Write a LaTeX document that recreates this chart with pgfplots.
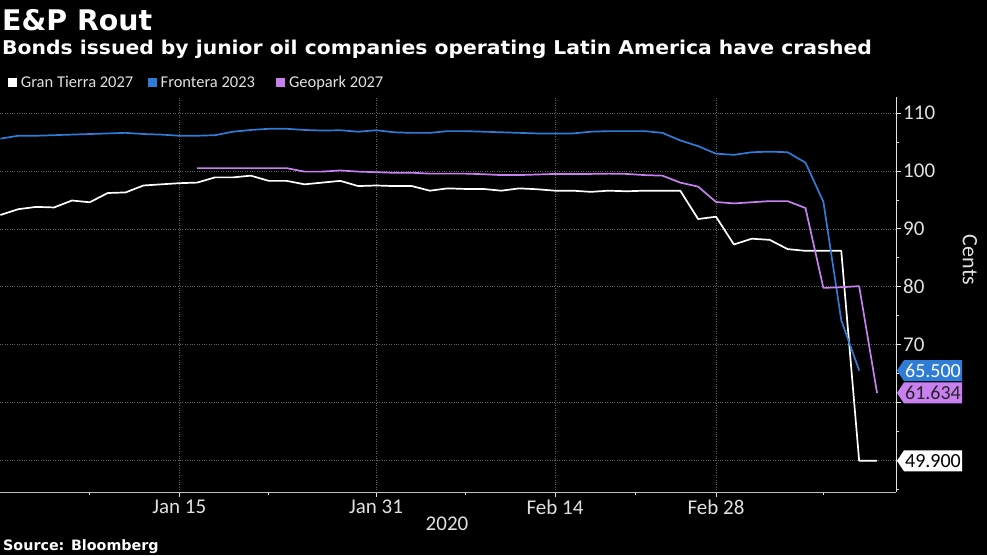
\documentclass[border=0pt]{standalone}
\usepackage{fontspec}
\setmainfont{Carlito}
\newfontfamily\djv{DejaVu Sans}
\newfontfamily\djvwide{DejaVu Sans}[FakeStretch=1.07]
\usepackage{pgfplots}
\pgfplotsset{compat=1.18}
\definecolor{bbblue}{RGB}{46,124,214}
\definecolor{bbpurple}{RGB}{200,128,240}
\definecolor{gridgray}{RGB}{100,100,100}
\definecolor{txt}{RGB}{225,225,225}
\begin{document}
\begin{tikzpicture}
\fill[black] (0pt,0pt) rectangle (987pt,555pt);
\path[use as bounding box] (0pt,0pt) rectangle (987pt,555pt);
% titles
\node[anchor=base west, inner sep=0pt, text=white, font=\djv\bfseries\fontsize{28.4}{30}\selectfont] at (2pt,524.3pt) {E\&P Rout};
\node[anchor=base west, inner sep=0pt, text=white, font=\djvwide\bfseries\fontsize{19}{20}\selectfont] at (2pt,500pt) {Bonds issued by junior oil companies operating Latin America have crashed};
% legend
\fill[white] (8.3pt,467.7pt) rectangle (17.3pt,477.3pt);
\node[anchor=base west, inner sep=0pt, text=txt, font=\fontsize{16.5}{17}\selectfont] at (20.7pt,467.7pt) {Gran Tierra 2027};
\fill[bbblue] (147.7pt,467.7pt) rectangle (156.7pt,477.3pt);
\node[anchor=base west, inner sep=0pt, text=txt, font=\fontsize{16.5}{17}\selectfont] at (160.5pt,467.7pt) {Frontera 2023};
\fill[bbpurple] (276pt,467.7pt) rectangle (285pt,477.3pt);
\node[anchor=base west, inner sep=0pt, text=txt, font=\fontsize{16.5}{17}\selectfont] at (288.8pt,467.7pt) {Geopark 2027};
\begin{axis}[
  at={(0pt,63pt)}, anchor=south west,
  scale only axis, width=896pt, height=395pt,
  xmin=-10.02, xmax=40.06, ymin=44.5, ymax=112.8,
  axis x line*=bottom, axis y line*=right,
  x axis line style={draw=black!25!white, line width=0.8pt, -},
  y axis line style={draw=txt, line width=0.8pt, -},
  tick align=outside,
  major tick length=5pt, minor tick length=3pt,
  every tick/.style={draw=txt, line width=0.8pt},
  xtick={0,11,21,30},
  xticklabels={Jan 15, Jan 31, Feb 14, Feb 28},
  minor xtick={-5,5,16,25.5,36},
  ytick={50,60,...,110},
  yticklabels={,,70,80,90,100,110},
  minor ytick={45,55,...,105},
  grid=major,
  major grid style={draw=gridgray, dotted, line width=0.6pt},
  /pgf/number format/assume math mode=true,
  ticklabel style={font=\fontsize{21}{21}\selectfont, text=txt, inner sep=0pt},
  xticklabel style={anchor=north, yshift=-3pt},
  yticklabel style={anchor=west, xshift=2pt},
  clip=false,
  every axis plot/.append style={line width=1.7pt, line join=round},
]
\addplot[white, mark=none] coordinates {
(-10,92.4)(-9,93.4)(-8,93.8)(-7,93.7)(-6,94.9)(-5,94.6)(-4,96.2)(-3,96.3)(-2,97.5)(-1,97.7)
(0,97.9)(1,98.0)(2,98.9)(3,98.9)(4,99.2)(5,98.3)(6,98.3)(7,97.7)(8,98.0)(9,98.3)
(10,97.4)(11,97.5)(12,97.4)(13,97.4)(14,96.6)(15,97.0)(16,96.9)(17,96.9)(18,96.6)(19,97.0)
(20,96.85)(21,96.6)(22,96.6)(23,96.4)(24,96.6)(25,96.5)(26,96.6)(27,96.6)(28,96.6)(29,91.7)
(30,92.1)(31,87.3)(32,88.3)(33,88.1)(34,86.5)(35,86.2)(36,86.2)(37,86.2)(38,49.9)(39,49.9)};
\addplot[bbblue, mark=none] coordinates {
(-10,105.6)(-9,106.1)(-8,106.1)(-7,106.2)(-6,106.3)(-5,106.4)(-4,106.5)(-3,106.6)(-2,106.4)(-1,106.3)
(0,106.1)(1,106.1)(2,106.2)(3,106.8)(4,107.1)(5,107.3)(6,107.3)(7,107.1)(8,107.0)(9,107.05)
(10,106.8)(11,107.05)(12,106.7)(13,106.6)(14,106.6)(15,106.9)(16,106.9)(17,106.8)(18,106.7)(19,106.6)
(20,106.5)(21,106.5)(22,106.5)(23,106.8)(24,106.9)(25,106.9)(26,106.9)(27,106.6)(28,105.3)(29,104.3)
(30,103.0)(31,102.8)(32,103.25)(33,103.35)(34,103.25)(35,101.45)(36,94.7)(37,74.2)(38,65.5)};
\addplot[bbpurple, mark=none] coordinates {
(1,100.5)(2,100.5)(3,100.5)(4,100.5)(5,100.5)(6,100.5)(7,99.9)(8,99.9)(9,100.1)
(10,99.9)(11,99.8)(12,99.7)(13,99.7)(14,99.55)(15,99.55)(16,99.55)(17,99.45)(18,99.3)(19,99.3)
(20,99.4)(21,99.5)(22,99.5)(23,99.5)(24,99.55)(25,99.5)(26,99.3)(27,99.2)(28,98.0)(29,97.3)
(30,94.65)(31,94.4)(32,94.6)(33,94.8)(34,94.8)(35,93.6)(36,79.8)(37,79.9)(38,80.1)(39,61.634)};
\coordinate (tb) at (axis cs:40.06,65.5);
\coordinate (tp) at (axis cs:40.06,61.634);
\coordinate (tw) at (axis cs:40.06,49.9);
\end{axis}
\fill[bbblue] ([xshift=1pt]tb) -- ++(7pt,10.5pt) -- ++(58pt,0pt) -- ++(0pt,-21pt) -- ++(-58pt,0pt) -- cycle;
\node[text=white, inner sep=0pt, font=\fontsize{20}{20}\selectfont] at ([xshift=37pt]tb) {65.500};
\fill[bbpurple] ([xshift=1pt]tp) -- ++(7pt,10.5pt) -- ++(58pt,0pt) -- ++(0pt,-21pt) -- ++(-58pt,0pt) -- cycle;
\node[text=black!85, inner sep=0pt, font=\fontsize{20}{20}\selectfont] at ([xshift=37pt]tp) {61.634};
\fill[white] ([xshift=1pt]tw) -- ++(7pt,10.5pt) -- ++(58pt,0pt) -- ++(0pt,-21pt) -- ++(-58pt,0pt) -- cycle;
\node[text=black, inner sep=0pt, font=\fontsize{20}{20}\selectfont] at ([xshift=37pt]tw) {49.900};
% extra labels
\node[anchor=base, inner sep=0pt, text=txt, font=\fontsize{21}{21}\selectfont] at (447pt,25pt) {2020};
\node[rotate=-90, inner sep=0pt, text=txt, font=\fontsize{22}{22}\selectfont] at (970pt,295pt) {Cents};
\node[anchor=base west, inner sep=0pt, text=white, font=\djv\bfseries\fontsize{14.3}{15}\selectfont] at (3pt,5pt) {Source: Bloomberg};
\end{tikzpicture}
\end{document}
